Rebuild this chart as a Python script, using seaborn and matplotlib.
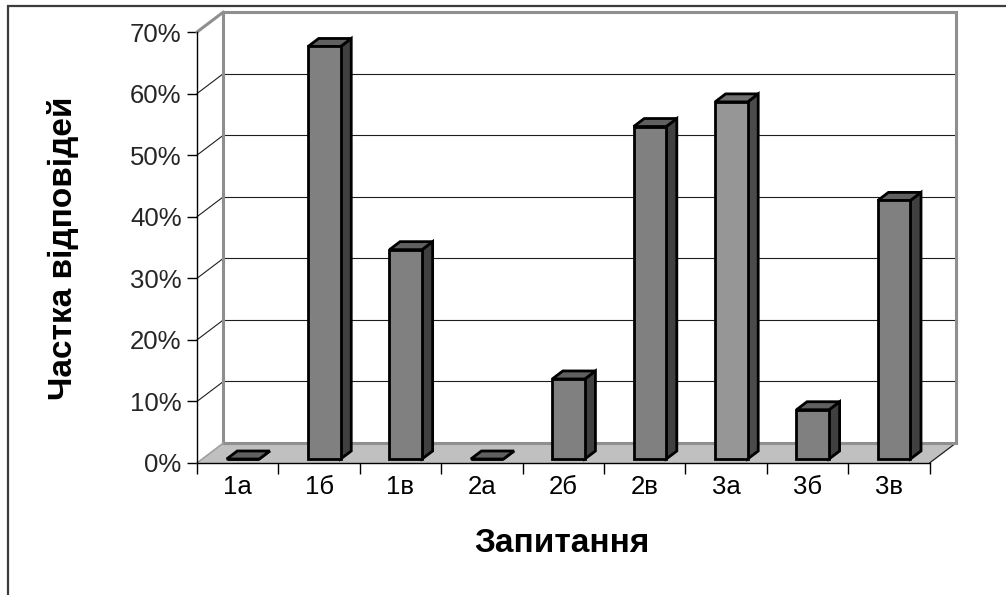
import matplotlib
matplotlib.use("Agg")
import matplotlib.pyplot as plt
from matplotlib.patches import Polygon, Rectangle
import seaborn as sns

# Survey results: share of answers per question option
categories = ["1а", "1б", "1в", "2а", "2б", "2в", "3а", "3б", "3в"]
shares = [0, 67, 34, 0, 13, 54, 58, 8, 42]
y_ticks = [0, 10, 20, 30, 40, 50, 60, 70]
y_tick_labels = [f"{v}%" for v in y_ticks]
front_colors = ["#808080", "#808080", "#808080", "#808080", "#808080",
                "#808080", "#969696", "#808080", "#808080"]

sns.set_theme(style="ticks")
plt.rcParams["font.family"] = ["Liberation Sans", "DejaVu Sans"]

W, H = 1006, 595
fig = plt.figure(figsize=(W / 100, H / 100), dpi=100)
fig.patch.set_facecolor("white")

# Oblique projection: full depth of the box in data units
DX, DY = 0.325, 3.25
BAR_FRONT, BAR_BACK = 0.2, 0.6   # depth range of the bars (0 = front, 1 = back wall)


def shift(d):
    """Offset of a plane at depth d relative to the bars' front plane."""
    return (d - BAR_FRONT) * DX, (d - BAR_FRONT) * DY


n = len(categories)
ymax = y_ticks[-1]
fx, fy = shift(0.0)
bx, by = shift(1.0)
x_lo, x_hi = -0.5, n - 0.5

ax = fig.add_axes([197 / W, (H - 463) / H, (956 - 197) / W, (463 - 12) / H])
ax.patch.set_visible(False)

# Floor
floor = Polygon([(x_lo + fx, fy), (x_hi + fx, fy), (x_hi + bx, by), (x_lo + bx, by)],
                closed=True, facecolor="#c0c0c0", edgecolor="none", zorder=0)
ax.add_patch(floor)
ax.plot([x_hi + fx, x_hi + bx], [fy, by], color="#202020", lw=0.9, zorder=0.6, clip_on=False)

# Back wall
wall_edge = "#8f8f8f"
ax.plot([x_lo + bx, x_hi + bx, x_hi + bx, x_lo + bx, x_lo + bx],
        [by, by, ymax + by, ymax + by, by], color=wall_edge, lw=2.2, zorder=0.7,
        clip_on=False, solid_joinstyle="miter")
# Side wall top and bottom edges
ax.plot([x_lo + fx, x_lo + bx], [ymax + fy, ymax + by], color=wall_edge, lw=2.2,
        zorder=0.7, clip_on=False)
ax.plot([x_lo + fx, x_lo + bx], [fy, by], color="#a0a0a0", lw=1.2, zorder=0.7, clip_on=False)

# Gridlines on the back wall and the side wall
for v in y_ticks[1:-1]:
    ax.plot([x_lo + bx, x_hi + bx], [v + by, v + by], color="#1e1e1e", lw=0.8,
            zorder=0.5, clip_on=False)
    ax.plot([x_lo + fx, x_lo + bx], [v + fy, v + by], color="#1e1e1e", lw=0.8,
            zorder=0.5, clip_on=False)

# Front faces of the bars
n_before = len(ax.patches)
palette = dict(zip(categories, front_colors))
sns.barplot(x=categories, y=shares, hue=categories, palette=palette, legend=False,
            width=0.4, saturation=1, edgecolor="black", linewidth=2.0, ax=ax, zorder=3)
bars = list(ax.patches)[n_before:]

# Top and side faces give each bar its depth
ddx = (BAR_BACK - BAR_FRONT) * DX
ddy = (BAR_BACK - BAR_FRONT) * DY
for bar, col in zip(bars, front_colors):
    x0, w, h = bar.get_x(), bar.get_width(), bar.get_height()
    x1 = x0 + w
    base = int(col[1:3], 16)
    top_col = "#{0:02x}{0:02x}{0:02x}".format(int(base * 0.75))
    side_col = "#{0:02x}{0:02x}{0:02x}".format(int(base * 0.5))
    side = Polygon([(x1, 0), (x1 + ddx, ddy), (x1 + ddx, h + ddy), (x1, h)], closed=True,
                   facecolor=side_col, edgecolor="black", lw=2.0, joinstyle="miter", zorder=3)
    top = Polygon([(x0, h), (x1, h), (x1 + ddx, h + ddy), (x0 + ddx, h + ddy)], closed=True,
                  facecolor=top_col, edgecolor="black", lw=2.0, joinstyle="miter", zorder=3)
    ax.add_patch(side)
    ax.add_patch(top)
    bar.set_zorder(3.5)

ax.set_xlim(x_lo + fx, x_hi + bx)
ax.set_ylim(fy, ymax + by)

# Axes on the front plane
for s in ("top", "right"):
    ax.spines[s].set_visible(False)
ax.spines["left"].set_bounds(fy, ymax + fy)
ax.spines["bottom"].set_bounds(x_lo + fx, x_hi + fx)
for s in ("left", "bottom"):
    ax.spines[s].set_color("black")
    ax.spines[s].set_linewidth(1.0)
    ax.spines[s].set_zorder(4)

ax.set_yticks([v + fy for v in y_ticks])
ax.set_yticklabels(y_tick_labels)
ax.set_xticks([i + fx for i in range(n)])
ax.set_xticklabels(categories)
ax.set_xticks([k - 0.5 + fx for k in range(n + 1)], minor=True)
ax.tick_params(axis="y", direction="out", length=7, width=1, color="black",
               labelsize=18.5, pad=4, left=True)
ax.tick_params(axis="x", which="major", length=0, labelsize=18.5, pad=9, colors="black")
ax.tick_params(axis="x", which="minor", direction="out", length=8, width=1, color="black",
               bottom=True)
ax.set_xlabel("")
ax.set_ylabel("")

fig.text(63 / W, 1 - 248 / H, "Частка відповідей", rotation=90, ha="center", va="center",
         fontsize=24, fontweight="bold", color="black")
fig.text(562 / W, 1 - 543 / H, "Запитання", ha="center", va="center",
         fontsize=24, fontweight="bold", color="black")

# Outer chart frame (open at the right and bottom edges)
fig.add_artist(Rectangle((8 / W, -0.05), 1.2, 1.05 - 6 / H, transform=fig.transFigure,
                         fill=False, edgecolor="#3c3c3c", lw=1.6))

fig.savefig("out.png", dpi=100)
